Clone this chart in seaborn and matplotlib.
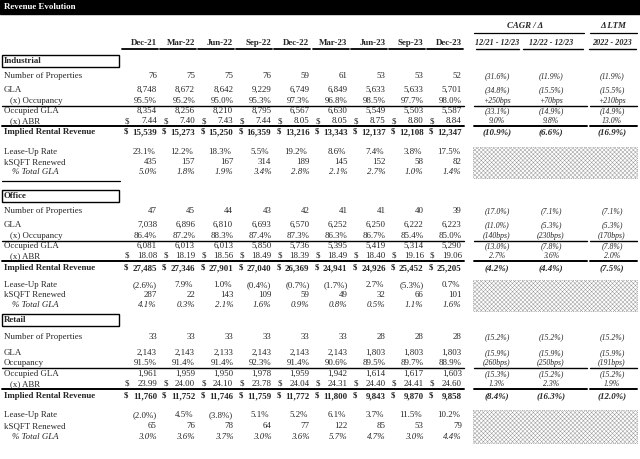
import matplotlib
matplotlib.use("Agg")
import matplotlib.pyplot as plt
from matplotlib.patches import Rectangle
import seaborn as sns

# ---- data ---------------------------------------------------------------
periods = ['Dec-21', 'Mar-22', 'Jun-22', 'Sep-22', 'Dec-22',
           'Mar-23', 'Jun-23', 'Sep-23', 'Dec-23']
cagr_headers = ['12/21 - 12/23', '12/22 - 12/23', '2022 - 2023']

# Industrial
ind_props = [76, 75, 75, 76, 59, 61, 53, 53, 52]
ind_gla = [8748, 8672, 8642, 9229, 6749, 6849, 5633, 5633, 5701]
ind_occ = [95.5, 95.2, 95.0, 95.3, 97.3, 96.8, 98.5, 97.7, 98.0]
ind_occ_gla = [8354, 8256, 8210, 8795, 6567, 6630, 5549, 5503, 5587]
ind_abr = [7.44, 7.40, 7.43, 7.44, 8.05, 8.05, 8.75, 8.80, 8.84]
ind_rev = [15539, 15273, 15250, 16359, 13216, 13343, 12137, 12108, 12347]
ind_leaseup = [23.1, 12.2, 18.3, 5.5, 19.2, 8.6, 7.4, 3.8, 17.5]
ind_ksqft = [435, 157, 167, 314, 189, 145, 152, 58, 82]
ind_pct_gla = [5.0, 1.8, 1.9, 3.4, 2.8, 2.1, 2.7, 1.0, 1.4]
ind_cagr_props = [-31.6, -11.9, -11.9]
ind_cagr_gla = [-34.8, -15.5, -15.5]
ind_cagr_occ = [250, 70, 210]
ind_cagr_occ_gla = [-33.1, -14.9, -14.9]
ind_cagr_abr = [9.0, 9.8, 13.0]
ind_cagr_rev = [-10.9, -6.6, -16.9]

# Office
off_props = [47, 45, 44, 43, 42, 41, 41, 40, 39]
off_gla = [7038, 6896, 6810, 6693, 6570, 6252, 6250, 6222, 6223]
off_occ = [86.4, 87.2, 88.3, 87.4, 87.3, 86.3, 86.7, 85.4, 85.0]
off_occ_gla = [6081, 6013, 6013, 5850, 5736, 5395, 5419, 5314, 5290]
off_abr = [18.08, 18.19, 18.56, 18.49, 18.39, 18.49, 18.40, 19.16, 19.06]
off_rev = [27485, 27346, 27901, 27040, 26369, 24941, 24926, 25452, 25205]
off_leaseup = [-2.6, 7.9, 1.0, -0.4, -0.7, -1.7, 2.7, -5.3, 0.7]
off_ksqft = [287, 22, 143, 109, 59, 49, 32, 66, 101]
off_pct_gla = [4.1, 0.3, 2.1, 1.6, 0.9, 0.8, 0.5, 1.1, 1.6]
off_cagr_props = [-17.0, -7.1, -7.1]
off_cagr_gla = [-11.0, -5.3, -5.3]
off_cagr_occ = [-140, -230, -170]
off_cagr_occ_gla = [-13.0, -7.8, -7.8]
off_cagr_abr = [2.7, 3.6, 2.0]
off_cagr_rev = [-4.2, -4.4, -7.5]

# Retail
ret_props = [33, 33, 33, 33, 33, 33, 28, 28, 28]
ret_gla = [2143, 2143, 2133, 2143, 2143, 2143, 1803, 1803, 1803]
ret_occ = [91.5, 91.4, 91.4, 92.3, 91.4, 90.6, 89.5, 89.7, 88.9]
ret_occ_gla = [1961, 1959, 1950, 1978, 1959, 1942, 1614, 1617, 1603]
ret_abr = [23.99, 24.00, 24.10, 23.78, 24.04, 24.31, 24.40, 24.41, 24.60]
ret_rev = [11760, 11752, 11746, 11759, 11772, 11800, 9843, 9870, 9858]
ret_leaseup = [-2.0, 4.5, -3.8, 5.1, 5.2, 6.1, 3.7, 11.5, 10.2]
ret_ksqft = [65, 76, 78, 64, 77, 122, 85, 53, 79]
ret_pct_gla = [3.0, 3.6, 3.7, 3.0, 3.6, 5.7, 4.7, 3.0, 4.4]
ret_cagr_props = [-15.2, -15.2, -15.2]
ret_cagr_gla = [-15.9, -15.9, -15.9]
ret_cagr_occ = [-260, -250, -191]
ret_cagr_occ_gla = [-15.3, -15.2, -15.2]
ret_cagr_abr = [1.3, 2.3, 1.9]
ret_cagr_rev = [-8.4, -16.3, -12.0]

# ---- formatting -----------------------------------------------------------
def f_int(v):
    return f"{v:,.0f}"

def f_pct(v):
    return f"{v:.1f}%" if v >= 0 else f"({-v:.1f}%)"

def f_bps(v):
    return f"+{v:.0f}bps" if v >= 0 else f"({-v:.0f}bps)"

def f_money2(v):
    return f"{v:.2f}"

sections = [
    ('Industrial', ind_props, ind_gla, ind_occ, ind_occ_gla, ind_abr, ind_rev,
     ind_leaseup, ind_ksqft, ind_pct_gla,
     [ind_cagr_props, ind_cagr_gla, ind_cagr_occ, ind_cagr_occ_gla,
      ind_cagr_abr, ind_cagr_rev], '(x) Occupancy'),
    ('Office', off_props, off_gla, off_occ, off_occ_gla, off_abr, off_rev,
     off_leaseup, off_ksqft, off_pct_gla,
     [off_cagr_props, off_cagr_gla, off_cagr_occ, off_cagr_occ_gla,
      off_cagr_abr, off_cagr_rev], '(x) Occupancy'),
    ('Retail', ret_props, ret_gla, ret_occ, ret_occ_gla, ret_abr, ret_rev,
     ret_leaseup, ret_ksqft, ret_pct_gla,
     [ret_cagr_props, ret_cagr_gla, ret_cagr_occ, ret_cagr_occ_gla,
      ret_cagr_abr, ret_cagr_rev], 'Occupancy'),
]

# ---- layout (pixel space) ---------------------------------------------
row_y = [
    [61, 76, 90, 101, 111, 121, 132, 152, 162, 172],
    [196, 211, 225, 236, 246, 256, 268, 285, 295, 305],
    [320, 337, 353, 363, 374, 384, 396, 415, 426, 437],
]
col_right = [157 + 38.1 * i for i in range(len(periods))]
cell_w = 35
cagr_x = [497, 551, 612]

sns.set_theme(style="white")
plt.rcParams['font.family'] = ['Liberation Serif', 'DejaVu Serif']
plt.rcParams['hatch.linewidth'] = 0.35
plt.rcParams['hatch.color'] = '#a8a8a8'

fig = plt.figure(figsize=(6.4, 4.59), dpi=100)
ax = fig.add_axes([0, 0, 1, 1])
ax.set_xlim(0, 640)
ax.set_ylim(459, 0)
ax.axis('off')

FS = 6.4
FS_C = 5.6

# title bar
ax.add_patch(Rectangle((0, 0), 640, 14, color='black'))
ax.text(4, 7, 'Revenue Evolution', color='white', fontsize=FS,
        fontweight='bold', va='center', ha='left')

# group headers
ax.text(525, 26, 'CAGR / Δ', fontsize=FS, fontweight='bold', style='italic',
        ha='center', va='center')
ax.plot([474, 584], [33, 33], color='black', lw=0.9)
ax.text(613, 26, 'Δ LTM', fontsize=FS, fontweight='bold', style='italic',
        ha='center', va='center')
ax.plot([590, 637], [33, 33], color='black', lw=0.9)

for i, p in enumerate(periods):
    ax.text(col_right[i], 43, p, fontsize=FS, fontweight='bold',
            ha='right', va='center')
    ax.plot([col_right[i] - cell_w, col_right[i] + 1], [48.5, 48.5],
            color='black', lw=1.3)
for x, h, (a, b) in zip(cagr_x, cagr_headers,
                         [(476, 519), (523, 583), (589, 636)]):
    ax.text(x, 43, h, fontsize=FS_C + 0.3, fontweight='bold', style='italic',
            ha='center', va='center')
    ax.plot([a, b], [48.5, 48.5], color='black', lw=1.0)


def hline(y, lw=0.9):
    ax.plot([2, col_right[-1] + 2], [y, y], color='black', lw=lw)
    ax.plot([474, 587], [y, y], color='black', lw=lw)
    ax.plot([590, 637], [y, y], color='black', lw=lw)


for s, ys in zip(sections, row_y):
    (name, props, gla, occ, occ_gla, abr, rev, leaseup, ksqft, pct,
     cagr, occ_label) = s
    y_box, y_np, y_gla, y_occ, y_ogla, y_abr, y_rev, y_lu, y_ks, y_pct = ys

    # section box
    ax.add_patch(Rectangle((2, y_box - 6), 117, 12, fill=False,
                           edgecolor='black', lw=1.0))
    ax.text(4, y_box, name, fontsize=FS, fontweight='bold', va='center')

    labels = [(y_np, 'Number of Properties', 4, 'normal', 'normal'),
              (y_gla, 'GLA', 4, 'normal', 'normal'),
              (y_occ, occ_label, 10 if occ_label.startswith('(') else 4,
               'normal', 'normal'),
              (y_ogla, 'Occupied GLA', 4, 'normal', 'normal'),
              (y_abr, '(x) ABR', 10, 'normal', 'normal'),
              (y_rev, 'Implied Rental Revenue', 4, 'bold', 'normal'),
              (y_lu, 'Lease-Up Rate', 4, 'normal', 'normal'),
              (y_ks, 'kSQFT Renewed', 4, 'normal', 'normal'),
              (y_pct, '% Total GLA', 12, 'normal', 'italic')]
    for y, lab, x, w, st in labels:
        ax.text(x, y, lab, fontsize=FS, fontweight=w, style=st, va='center')

    for i in range(len(periods)):
        xr = col_right[i]
        ax.text(xr, y_np, f_int(props[i]), fontsize=FS, ha='right', va='center')
        ax.text(xr, y_gla, f_int(gla[i]), fontsize=FS, ha='right', va='center')
        ax.text(xr, y_occ, f"{occ[i]:.1f}%", fontsize=FS, ha='right', va='center')
        ax.text(xr, y_ogla, f_int(occ_gla[i]), fontsize=FS, ha='right', va='center')
        ax.text(xr - 32, y_abr, '$', fontsize=FS, ha='left', va='center')
        ax.text(xr, y_abr, f_money2(abr[i]), fontsize=FS, ha='right', va='center')
        ax.text(xr - 33, y_rev, '$', fontsize=FS, fontweight='bold',
                ha='left', va='center')
        ax.text(xr, y_rev, f_int(rev[i]), fontsize=FS, fontweight='bold',
                ha='right', va='center')
        lu = leaseup[i]
        ax.text(xr + (0 if lu < 0 else -2), y_lu, f_pct(lu), fontsize=FS,
                ha='right', va='center')
        ax.text(xr, y_ks, f_int(ksqft[i]), fontsize=FS, ha='right', va='center')
        ax.text(xr, y_pct, f"{pct[i]:.1f}%", fontsize=FS, style='italic',
                ha='right', va='center')

    # growth columns
    c_props, c_gla, c_occ, c_ogla, c_abr, c_rev = cagr
    for j in range(3):
        x = cagr_x[j]
        ax.text(x, y_np, f_pct(c_props[j]), fontsize=FS_C, style='italic',
                ha='center', va='center')
        ax.text(x, y_gla, f_pct(c_gla[j]), fontsize=FS_C, style='italic',
                ha='center', va='center')
        ax.text(x, y_occ, f_bps(c_occ[j]), fontsize=FS_C, style='italic',
                ha='center', va='center')
        ax.text(x, y_ogla, f_pct(c_ogla[j]), fontsize=FS_C, style='italic',
                ha='center', va='center')
        ax.text(x, y_abr, f_pct(c_abr[j]), fontsize=FS_C, style='italic',
                ha='center', va='center')
        ax.text(x, y_rev, f_pct(c_rev[j]), fontsize=FS, style='italic',
                fontweight='bold', ha='center', va='center')

    hline(y_occ + 4.5, lw=1.0)
    hline(y_abr + 5, lw=1.4)

    # shaded block next to leasing rows
    ax.add_patch(Rectangle((473, y_lu - 5), 164, y_pct - y_lu + 11,
                           facecolor='white', edgecolor='#9a9a9a',
                           hatch='xxxxxxxx', lw=0.6, ls=':'))

ax.plot([2, 120], [181, 181], color='black', lw=0.9)

fig.savefig('out.png', dpi=100)
